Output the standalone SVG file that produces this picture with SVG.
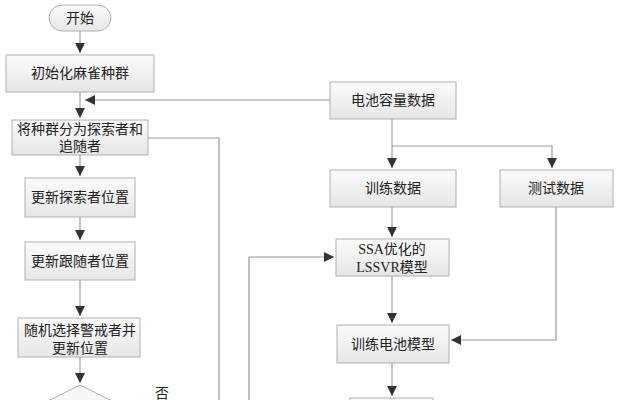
<svg xmlns="http://www.w3.org/2000/svg" width="621" height="400" viewBox="0 0 621 400">
<defs>
<linearGradient id="g" x1="0" y1="0" x2="0" y2="1"><stop offset="0" stop-color="#fbfbfb"/><stop offset="1" stop-color="#e6e6e6"/></linearGradient>
<marker id="a" viewBox="0 0 10 10" refX="10" refY="5" markerWidth="12" markerHeight="10" markerUnits="userSpaceOnUse" orient="auto"><path d="M0,0L10,5L0,10z" fill="#333"/></marker>
</defs>
<style>
rect,.n path,.n polygon{fill:url(#g);stroke:#b0b0b0;stroke-width:1}
text{font-family:"Liberation Serif","Noto Sans CJK SC",serif;font-size:14px;fill:#222;text-anchor:middle}
#c path{fill:none;stroke:#999;stroke-width:1.2}
.m{marker-end:url(#a)}
</style>
<rect width="621" height="400" fill="#fff" style="stroke:none;fill:#fff"/>
<g id="c">
<path class="m" d="M80,31V53"/>
<path class="m" d="M80,92V118"/>
<path class="m" d="M330,100H85"/>
<path class="m" d="M80,155V176"/>
<path class="m" d="M80,217V240"/>
<path class="m" d="M80,280V316"/>
<path class="m" d="M80,357V383"/>
<path d="M148,138H219V400"/>
<path class="m" d="M249,400V257H334"/>
<path class="m" d="M392,119V168"/>
<path class="m" d="M392,146H552V168"/>
<path class="m" d="M392,207V237"/>
<path class="m" d="M392,276V323"/>
<path class="m" d="M556,207V340H451"/>
<path class="m" d="M392,363V396"/>
</g>
<g class="n">
<g id="start"><rect x="49" y="5" width="62" height="26" rx="13"/><text x="80" y="23">开始</text></g>
<g id="init"><rect x="6" y="55" width="148" height="37"/><text x="80" y="78">初始化麻雀种群</text></g>
<g id="split"><rect x="12" y="120" width="136" height="35"/><text x="80" y="134">将种群分为探索者和</text><text x="80" y="151">追随者</text></g>
<g id="explorer"><rect x="25" y="178" width="110" height="39"/><text x="80" y="202">更新探索者位置</text></g>
<g id="follower"><rect x="25" y="242" width="110" height="38"/><text x="80" y="266">更新跟随者位置</text></g>
<g id="guard"><rect x="18" y="318" width="122" height="39"/><text x="80" y="335">随机选择警戒者并</text><text x="80" y="353">更新位置</text></g>
<g id="decision"><polygon points="80,385 140,415 80,445 20,415"/></g>
<text x="162" y="398">否</text>
<g id="data"><rect x="330" y="82" width="126" height="37"/><text x="393" y="105">电池容量数据</text></g>
<g id="train"><rect x="330" y="170" width="126" height="37"/><text x="393" y="193">训练数据</text></g>
<g id="test"><rect x="500" y="170" width="113" height="37"/><text x="556" y="193">测试数据</text></g>
<g id="ssa"><rect x="336" y="239" width="113" height="37"/><text x="392" y="254">SSA优化的</text><text x="392" y="272">LSSVR模型</text></g>
<g id="trainmodel"><rect x="337" y="325" width="112" height="38"/><text x="393" y="349">训练电池模型</text></g>
<g id="bottom"><rect x="350" y="398" width="83" height="20"/></g>
</g>
</svg>
